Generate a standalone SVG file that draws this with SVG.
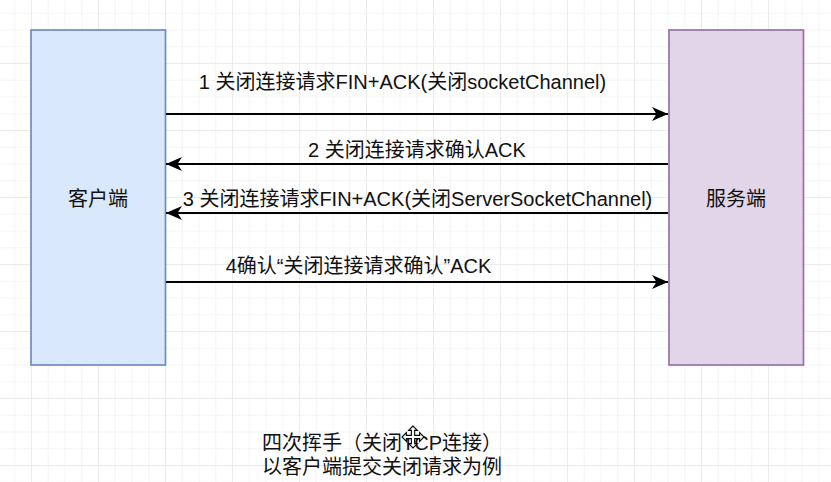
<svg xmlns="http://www.w3.org/2000/svg" width="831" height="482" viewBox="0 0 831 482">
  <defs>
    <pattern id="minor" patternUnits="userSpaceOnUse" x="31" y="-4" width="16.75" height="16.75">
      <path d="M0 0.5H16.75M0.5 0V16.75" fill="none" stroke="#f4f4f4" stroke-width="1"/>
    </pattern>
    <pattern id="major" patternUnits="userSpaceOnUse" x="31" y="-4" width="67" height="67">
      <path d="M0 0.5H67M0.5 0V67" fill="none" stroke="#ebebeb" stroke-width="1"/>
    </pattern>
    <marker id="arrowBig" viewBox="0 0 16 14" refX="16" refY="7" markerWidth="16" markerHeight="14" markerUnits="userSpaceOnUse" orient="auto">
      <path d="M0 0L16 7L0 14L4.5 7Z" fill="#000"/>
    </marker>
  </defs>
  <style>
    .t { font-family: "Liberation Sans", "Noto Sans CJK SC", sans-serif; font-size: 20px; fill: #111; }
    .c { text-anchor: middle; }
    .conn { stroke: #000; stroke-width: 2; fill: none; marker-end: url(#arrowBig); }
  </style>
  <rect width="831" height="482" fill="#ffffff"/>
  <rect width="831" height="482" fill="url(#minor)"/>
  <rect width="831" height="482" fill="url(#major)"/>

  <g id="client">
    <rect x="31" y="30" width="134.5" height="335" fill="#dae8fc" stroke="#6c8ebf" stroke-width="1.7"/>
    <text class="t c" x="98" y="206">客户端</text>
  </g>
  <g id="server">
    <rect x="669" y="30" width="134.5" height="335" fill="#e1d5e7" stroke="#9673a6" stroke-width="1.7"/>
    <text class="t c" x="736" y="206">服务端</text>
  </g>

  <g id="connectors">
    <path class="conn" d="M166 114H668"/>
    <path class="conn" d="M668 164H166"/>
    <path class="conn" d="M668 213H166"/>
    <path class="conn" d="M166 282H668"/>
    <text class="t c" x="402.5" y="89">1 关闭连接请求FIN+ACK(关闭socketChannel)</text>
    <text class="t c" x="417" y="157">2 关闭连接请求确认ACK</text>
    <text class="t c" x="417.5" y="206">3 关闭连接请求FIN+ACK(关闭ServerSocketChannel)</text>
    <text class="t c" x="358.5" y="273">4确认“关闭连接请求确认”ACK</text>
  </g>

  <g id="caption">
    <text class="t" x="262" y="450">四次挥手（关闭TCP连接）</text>
    <text class="t" x="262" y="474">以客户端提交关闭请求为例</text>
  </g>

  <g id="cursor" transform="translate(413 437) scale(1.1)">
    <path d="M0 -10L-4 -6H-1.5V-1.5H-6V-4L-10 0L-6 4V1.5H-1.5V6H-4L0 10L4 6H1.5V1.5H6V4L10 0L6 -4V-1.5H1.5V-6H4Z" fill="#fff" stroke="#000" stroke-width="1"/>
  </g>
</svg>
